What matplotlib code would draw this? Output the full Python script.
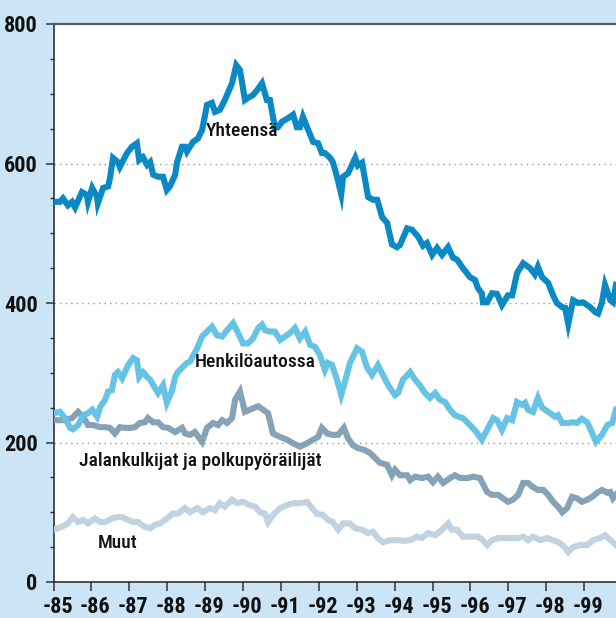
import os
import matplotlib
matplotlib.use("Agg")
import matplotlib.pyplot as plt
import matplotlib.transforms as mtransforms
from matplotlib import font_manager as fm
from matplotlib.ticker import MultipleLocator, FixedLocator

BASE_YEAR = 1985
year_ticks = list(range(1985, 2000))
year_labels = ['-85', '-86', '-87', '-88', '-89', '-90', '-91', '-92', '-93', '-94',
               '-95', '-96', '-97', '-98', '-99']
y_ticks = [0, 200, 400, 600, 800]

# Yhteensä (years since 1985, value)
yht_t = [0.00, 0.17, 0.25, 0.38, 0.49, 0.57, 0.75, 0.88, 0.91, 1.02, 1.15, 1.17, 1.31, 1.44, 1.49,
         1.57, 1.70, 1.75, 1.94, 2.07, 2.20, 2.26, 2.36, 2.47, 2.55, 2.63, 2.76, 2.89, 2.99, 3.07,
         3.21, 3.26, 3.39, 3.47, 3.52, 3.68, 3.81, 3.92, 4.05, 4.18, 4.26, 4.39, 4.52, 4.71, 4.82,
         4.92, 5.05, 5.13, 5.26, 5.37, 5.50, 5.63, 5.71, 5.84, 5.92, 6.03, 6.19, 6.32, 6.42, 6.50,
         6.58, 6.72, 6.85, 6.98, 7.08, 7.16, 7.30, 7.37, 7.48, 7.59, 7.64, 7.77, 7.96, 8.03, 8.14,
         8.30, 8.43, 8.54, 8.67, 8.80, 8.93, 9.06, 9.14, 9.33, 9.46, 9.62, 9.75, 9.85, 9.99, 10.12,
         10.25, 10.41, 10.54, 10.65, 10.80, 10.99, 11.12, 11.20, 11.30, 11.33, 11.44, 11.57, 11.70,
         11.83, 11.99, 12.10, 12.23, 12.39, 12.57, 12.70, 12.78, 12.89, 13.05, 13.18, 13.28, 13.42,
         13.50, 13.58, 13.71, 13.84, 13.97, 14.16, 14.29, 14.37, 14.47, 14.55, 14.69, 14.76, 14.84]
yht_v = [545, 545, 550, 540, 545, 537, 559, 555, 545, 565, 552, 543, 565, 567, 579,
         608, 602, 595, 615, 624, 629, 605, 609, 598, 602, 584, 581, 581, 562, 567,
         584, 602, 624, 624, 617, 631, 636, 648, 684, 687, 674, 677, 691, 715, 741,
         734, 691, 694, 698, 705, 715, 691, 691, 652, 652, 660, 665, 670, 652, 652,
         667, 648, 631, 629, 615, 615, 608, 602, 581, 556, 581, 586, 608, 597, 601,
         552, 548, 548, 523, 515, 484, 480, 483, 507, 505, 495, 482, 486, 469, 479,
         469, 480, 465, 462, 450, 437, 433, 421, 414, 401, 401, 414, 413,
         397, 411, 411, 443, 457, 450, 441, 452, 437, 429, 411, 400, 394,
         393, 370, 404, 400, 401, 394, 387, 385, 401, 426, 404, 401, 426]

# Henkilöautossa
hen_t = [0.00, 0.17, 0.30, 0.44, 0.51, 0.65, 0.78, 0.91, 1.02, 1.15, 1.23, 1.36, 1.44, 1.54, 1.62,
         1.70, 1.81, 1.97, 2.10, 2.20, 2.26, 2.36, 2.47, 2.55, 2.68, 2.76, 2.89, 2.99, 3.13, 3.21,
         3.28, 3.39, 3.52, 3.60, 3.79, 3.92, 4.05, 4.18, 4.31, 4.45, 4.52, 4.66, 4.74, 4.87, 5.00,
         5.13, 5.26, 5.40, 5.50, 5.58, 5.71, 5.84, 5.98, 6.11, 6.24, 6.37, 6.50, 6.64, 6.77, 6.90,
         7.03, 7.16, 7.24, 7.35, 7.48, 7.59, 7.69, 7.82, 8.01, 8.14, 8.27, 8.40, 8.56, 8.69, 8.83,
         9.01, 9.09, 9.22, 9.41, 9.54, 9.67, 9.80, 9.93, 10.07, 10.20, 10.33, 10.46, 10.59, 10.80,
         10.99, 11.17, 11.30, 11.44, 11.60, 11.70, 11.83, 11.97, 12.10, 12.23, 12.36, 12.44, 12.52,
         12.65, 12.78, 12.89, 13.05, 13.23, 13.31, 13.42, 13.58, 13.71, 13.81, 13.94, 14.08, 14.21,
         14.31, 14.47, 14.61, 14.74, 14.84]
hen_v = [242, 244, 235, 221, 219, 225, 239, 242, 247, 237, 251, 261, 273, 275, 297,
         301, 292, 311, 321, 318, 294, 301, 294, 290, 278, 271, 282, 257, 275, 294,
         301, 307, 314, 316, 335, 352, 359, 366, 354, 352, 357, 366, 371, 357, 342,
         342, 349, 364, 369, 361, 359, 359, 347, 352, 357, 364, 349, 359, 340, 337,
         325, 304, 314, 311, 290, 268, 287, 314, 335, 330, 308, 297, 311, 297, 282,
         268, 271, 290, 301, 290, 282, 271, 264, 271, 261, 258, 247, 239, 235,
         225, 214, 204, 218, 235, 232, 218, 235, 232, 258, 254, 257, 247,
         244, 264, 250, 244, 237, 239, 228, 228, 229, 228, 234, 229, 214,
         201, 211, 225, 228, 247]

# Jalankulkijat ja polkupyöräilijät
jal_t = [0.00, 0.25, 0.49, 0.65, 0.78, 0.91, 1.04, 1.23, 1.36, 1.49, 1.62, 1.75, 1.89, 2.02, 2.15,
         2.28, 2.41, 2.49, 2.63, 2.76, 2.89, 3.02, 3.21, 3.39, 3.47, 3.60, 3.73, 3.92, 4.05, 4.21,
         4.34, 4.45, 4.58, 4.71, 4.79, 4.92, 5.05, 5.18, 5.40, 5.53, 5.66, 5.79, 5.98, 6.16, 6.32,
         6.50, 6.69, 6.85, 6.98, 7.08, 7.22, 7.35, 7.51, 7.66, 7.77, 7.90, 8.03, 8.22, 8.35, 8.48,
         8.61, 8.80, 8.93, 9.01, 9.14, 9.33, 9.41, 9.54, 9.72, 9.88, 10.01, 10.14, 10.28, 10.46,
         10.59, 10.73, 10.91, 11.07, 11.25, 11.44, 11.57, 11.73, 11.86, 11.99, 12.12, 12.26, 12.39,
         12.52, 12.65, 12.78, 12.92, 13.05, 13.18, 13.31, 13.42, 13.55, 13.68, 13.81, 13.94, 14.08,
         14.21, 14.34, 14.47, 14.61, 14.69, 14.76, 14.84]
jal_v = [232, 232, 235, 244, 237, 225, 225, 222, 222, 221, 213, 222, 221, 221, 222,
         228, 229, 235, 229, 229, 222, 221, 215, 221, 213, 211, 215, 201, 221, 228,
         225, 232, 228, 235, 261, 273, 244, 247, 252, 247, 242, 213, 208, 204, 199,
         194, 199, 204, 208, 221, 213, 211, 211, 221, 206, 196, 192, 189, 185, 178,
         171, 168, 153, 161, 153, 153, 146, 151, 149, 151, 143, 151, 142, 149,
         153, 149, 149, 151, 149, 129, 125, 125, 120, 115, 118, 125, 142,
         142, 136, 132, 132, 125, 115, 108, 100, 106, 122, 120, 115, 118,
         122, 128, 132, 128, 129, 120, 125]

# Muut
muu_t = [0.00, 0.22, 0.38, 0.51, 0.65, 0.78, 0.91, 1.09, 1.23, 1.36, 1.54, 1.68, 1.81, 1.97, 2.10,
         2.23, 2.41, 2.55, 2.68, 2.81, 2.99, 3.15, 3.28, 3.47, 3.60, 3.79, 3.94, 4.13, 4.26, 4.39,
         4.52, 4.71, 4.84, 5.00, 5.18, 5.32, 5.45, 5.58, 5.66, 5.79, 5.98, 6.16, 6.32, 6.50, 6.69,
         6.82, 6.95, 7.11, 7.24, 7.37, 7.51, 7.64, 7.82, 7.96, 8.14, 8.30, 8.43, 8.56, 8.69, 8.88,
         9.06, 9.27, 9.41, 9.59, 9.72, 9.88, 10.07, 10.25, 10.41, 10.51, 10.65, 10.80, 10.99, 11.20,
         11.33, 11.44, 11.57, 11.73, 11.91, 12.10, 12.26, 12.39, 12.52, 12.65, 12.84, 13.02, 13.18,
         13.36, 13.50, 13.58, 13.71, 13.89, 14.08, 14.24, 14.42, 14.55, 14.69, 14.84]
muu_v = [75, 79, 84, 93, 86, 89, 84, 91, 86, 86, 91, 93, 93, 89, 86,
         86, 79, 77, 82, 84, 91, 98, 98, 106, 100, 106, 100, 106, 103, 113,
         108, 118, 113, 115, 110, 108, 100, 98, 86, 96, 106, 110, 113, 113, 115,
         106, 98, 96, 89, 86, 75, 84, 84, 77, 75, 70, 72, 63, 57, 60,
         60, 59, 60, 65, 63, 70, 67, 75, 84, 75, 75, 65, 65, 65,
         60, 53, 60, 63, 63, 63, 63, 65, 60, 65, 60, 63, 60,
         56, 49, 43, 50, 53, 53, 60, 63, 67, 60, 53]

series_names = ['Yhteensä', 'Henkilöautossa', 'Jalankulkijat ja polkupyöräilijät', 'Muut']

# ---- look for a condensed font; fall back to Roboto ----
def _all_font_files():
    files = set(f.fname for f in fm.fontManager.ttflist)
    try:
        files |= set(fm.findSystemFonts())
    except Exception:
        pass
    return files

_files = _all_font_files()
_by_base = {os.path.basename(p).lower(): p for p in _files}

def _pick(cands):
    for c in cands:
        if c in _by_base:
            return _by_base[c]
    return None

med_file = _pick(['robotocondensed-medium.ttf', 'liberationsansnarrow-regular.ttf',
                  'robotocondensed-regular.ttf', 'dejavusanscondensed.ttf'])
bold_file = _pick(['liberationsansnarrow-bold.ttf', 'robotocondensed-bold.ttf',
                   'dejavusanscondensed-bold.ttf', 'opensans-condensedbold.ttf'])
condensed = med_file is not None and bold_file is not None
if condensed:
    FP_REG = fm.FontProperties(fname=med_file)
    FP_BOLD = fm.FontProperties(fname=bold_file)
    TICK_SIZE, XTICK_SIZE, LAB_SIZE = 16, 16, 14
else:
    FP_REG = fm.FontProperties(family='Roboto', weight='medium')
    FP_BOLD = fm.FontProperties(family='Roboto', weight='bold')
    TICK_SIZE, XTICK_SIZE, LAB_SIZE = 13, 12, 13

BG = '#cbe5f6'
C_YHT = '#0a89c5'
C_HEN = '#66c3e6'
C_JAL = '#85a2b6'
C_MUU = '#c1d3e0'

W, H = 616, 618
fig = plt.figure(figsize=(W / 100, H / 100), dpi=100, facecolor=BG)
left_px, right_px, top_px, bot_px = 53.5, 616, 24, 582
ax = fig.add_axes([left_px / W, (H - bot_px) / H, (right_px - left_px) / W, (bot_px - top_px) / H])
ax.set_facecolor('white')

def yrs(t):
    return [BASE_YEAR + v for v in t]

lw = 4.4
ax.plot(yrs(muu_t), muu_v, color=C_MUU, lw=lw, solid_joinstyle='miter', zorder=3)
ax.plot(yrs(jal_t), jal_v, color=C_JAL, lw=lw, solid_joinstyle='miter', zorder=4)
ax.plot(yrs(hen_t), hen_v, color=C_HEN, lw=lw, solid_joinstyle='miter', zorder=5)
ax.plot(yrs(yht_t), yht_v, color=C_YHT, lw=lw, solid_joinstyle='miter', zorder=6)

ax.set_xlim(1985, 1999.84)
ax.set_ylim(0, 800)

for g in [200, 400, 600]:
    ax.axhline(g, color='#8a9ba3', lw=1.0, ls=(0, (1, 3)), zorder=1)

ax.spines['right'].set_visible(False)
ax.spines['top'].set_color('#555a5e')
ax.spines['top'].set_linewidth(1.6)
for s in ['left', 'bottom']:
    ax.spines[s].set_color('#222222')
    ax.spines[s].set_linewidth(1.1)

ax.yaxis.set_major_locator(FixedLocator(y_ticks))
ax.yaxis.set_minor_locator(MultipleLocator(50))
ax.set_yticklabels([str(v) for v in y_ticks])
ax.xaxis.set_major_locator(FixedLocator(year_ticks))
ax.set_xticklabels(year_labels)

ax.tick_params(axis='y', which='major', direction='out', length=6, width=1.1, color='#333333', pad=5.5)
ax.tick_params(axis='y', which='minor', direction='out', length=3, width=1.0, color='#333333')
ax.tick_params(axis='x', which='major', direction='out', length=6.5, width=1.1, color='#333333', pad=3.5)
for lab in ax.get_yticklabels():
    lab.set_fontproperties(FP_BOLD)
    lab.set_fontsize(TICK_SIZE)
    lab.set_color('#111111')
offset = mtransforms.ScaledTranslation(4 / 100, 0, fig.dpi_scale_trans)
for lab in ax.get_xticklabels():
    lab.set_fontproperties(FP_BOLD)
    lab.set_fontsize(XTICK_SIZE)
    lab.set_color('#111111')
    lab.set_transform(lab.get_transform() + offset)

lab_kw = dict(color='#111111', ha='center', va='center', zorder=10)
for name, xx, yy in [(series_names[0], 1989.98, 647), (series_names[1], 1990.32, 315),
                     (series_names[2], 1988.87, 173), (series_names[3], 1986.68, 56)]:
    t = ax.text(xx, yy, name, **lab_kw)
    t.set_fontproperties(FP_REG)
    t.set_fontsize(LAB_SIZE)

fig.savefig('out.png', dpi=100, facecolor=BG)
